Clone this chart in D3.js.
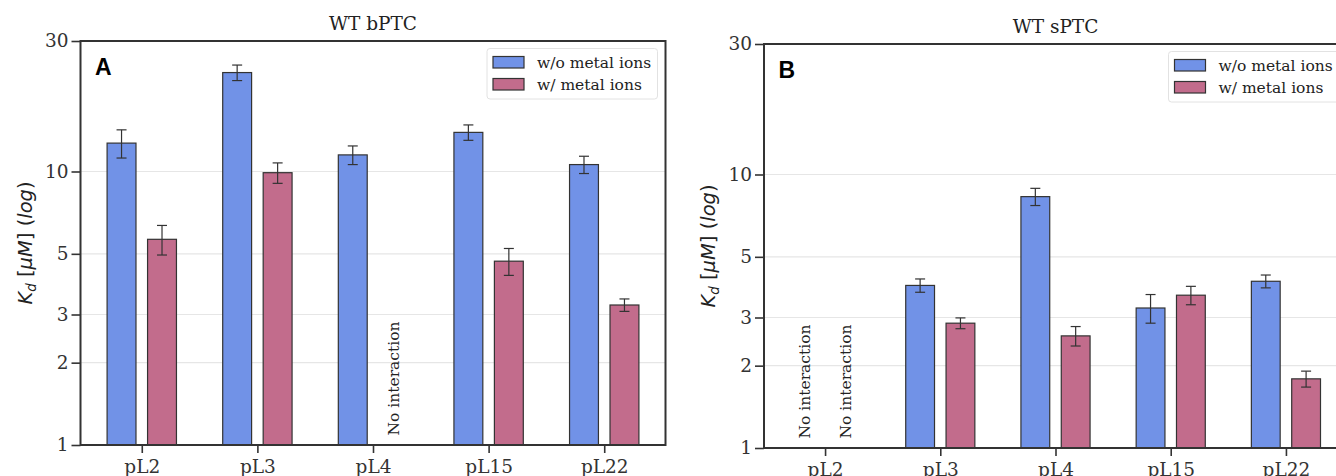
<!DOCTYPE html>
<html>
<head>
<meta charset="utf-8">
<script src="https://cdn.jsdelivr.net/npm/d3@7"></script>
<style>
  body { margin: 0; background: #fff; }
  svg { display: block; }
</style>
</head>
<body>
<div id="chart"></div>
<script>
// chart data
var categories = ["pL2", "pL3", "pL4", "pL15", "pL22"];
var seriesNames = ["w/o metal ions", "w/ metal ions"];
var seriesColors = ["#7192e7", "#c26c8c"];
var yTicks = [1, 2, 3, 5, 10, 30];

// panel A (WT bPTC), null = no interaction
var bptcWithout = [12.7, 23.0, 11.5, 13.9, 10.6],
    bptcWithoutErr = [1.5, 1.5, 0.9, 0.9, 0.77],
    bptcWith = [5.65, 9.9, null, 4.7, 3.25],
    bptcWithErr = [0.7, 0.85, null, 0.53, 0.17];

// panel B (WT sPTC)
var sptcWithout = [null, 3.93, 8.3, 3.25, 4.07],
    sptcWithoutErr = [null, 0.22, 0.6, 0.39, 0.22],
    sptcWith = [null, 2.86, 2.57, 3.62, 1.79],
    sptcWithErr = [null, 0.13, 0.21, 0.28, 0.12];

var width = 1336, height = 476;
var serif = "'DejaVu Serif', serif",
    sans = "'DejaVu Sans', sans-serif";

var svg = d3.select("#chart").append("svg")
    .attr("width", width)
    .attr("height", height);

function drawPanel(opts) {
    var left = opts.left, top = opts.top,
        w = opts.width, h = opts.height,
        bottom = top + h;

    var g = svg.append("g");

    // scales
    var xScale = d3.scalePoint()
        .domain(categories)
        .range([left, left + w])
        .padding(0.53);
    var step = xScale.step();
    var xSub = d3.scaleBand()
        .domain(seriesNames)
        .range([-0.3 * step, 0.3 * step])
        .paddingInner(0.286);
    var yScale = d3.scaleLog()
        .domain([1, 30])
        .range([bottom, top]);

    // grid lines
    g.append("g").selectAll("line")
        .data(yTicks.filter(function(d) { return d > 1 && d < 30; }))
        .enter().append("line")
            .attr("x1", left).attr("x2", left + w)
            .attr("y1", function(d) { return yScale(d); })
            .attr("y2", function(d) { return yScale(d); })
            .style("stroke", "#e6e6e6")
            .style("stroke-width", 1.2);

    // bars
    var rows = [];
    categories.forEach(function(c, i) {
        opts.series.forEach(function(s, j) {
            rows.push({cat: c, name: seriesNames[j], color: seriesColors[j],
                       value: s.values[i], err: s.errs[i]});
        });
    });

    var barRows = rows.filter(function(d) { return d.value != null; });
    g.append("g").selectAll("rect")
        .data(barRows)
        .enter().append("rect")
            .attr("x", function(d) { return xScale(d.cat) + xSub(d.name); })
            .attr("y", function(d) { return yScale(d.value); })
            .attr("width", xSub.bandwidth())
            .attr("height", function(d) { return bottom - yScale(d.value); })
            .style("fill", function(d) { return d.color; })
            .style("stroke", "#333")
            .style("stroke-width", 1.2);

    // error bars
    var eb = g.append("g").selectAll("g")
        .data(barRows)
        .enter().append("g")
            .attr("transform", function(d) {
                return "translate(" + (xScale(d.cat) + xSub(d.name) + xSub.bandwidth() / 2) + ",0)";
            })
            .style("stroke", "#333")
            .style("stroke-width", 1.2);
    eb.append("line")
        .attr("y1", function(d) { return yScale(d.value + d.err); })
        .attr("y2", function(d) { return yScale(d.value - d.err); });
    eb.append("line")
        .attr("x1", -5).attr("x2", 5)
        .attr("y1", function(d) { return yScale(d.value + d.err); })
        .attr("y2", function(d) { return yScale(d.value + d.err); });
    eb.append("line")
        .attr("x1", -5).attr("x2", 5)
        .attr("y1", function(d) { return yScale(d.value - d.err); })
        .attr("y2", function(d) { return yScale(d.value - d.err); });

    // "No interaction" labels
    g.append("g").selectAll("text")
        .data(rows.filter(function(d) { return d.value == null; }))
        .enter().append("text")
            .attr("transform", function(d) {
                return "translate(" + (xScale(d.cat) + xSub(d.name) + xSub.bandwidth() / 2) + "," + (bottom - 9.5) + ") rotate(-90)";
            })
            .attr("dy", "0.36em")
            .style("font-family", serif)
            .style("font-size", "15.5px")
            .style("fill", "#222")
            .text("No interaction");

    // axes
    var yAxis = g.append("g")
        .attr("transform", "translate(" + left + ",0)")
        .call(d3.axisLeft(yScale)
            .tickValues(yTicks)
            .tickFormat(d3.format("d"))
            .tickSize(9)
            .tickPadding(3));
    var xAxis = g.append("g")
        .attr("transform", "translate(0," + bottom + ")")
        .call(d3.axisBottom(xScale)
            .tickSize(8)
            .tickPadding(7));
    [yAxis, xAxis].forEach(function(a) {
        a.select(".domain").remove();
        a.selectAll("line").style("stroke", "#333").style("stroke-width", 1.6);
        a.selectAll("text")
            .style("font-family", serif)
            .style("font-size", "18.5px")
            .style("fill", "#333");
    });

    // frame
    g.append("rect")
        .attr("x", left).attr("y", top)
        .attr("width", w).attr("height", h)
        .style("fill", "none")
        .style("stroke", "#333")
        .style("stroke-width", 2);

    // title
    g.append("text")
        .attr("x", left + w / 2)
        .attr("y", top - 11)
        .attr("text-anchor", "middle")
        .style("font-family", serif)
        .style("font-size", "18.5px")
        .style("fill", "#222")
        .text(opts.title);

    // panel letter
    g.append("text")
        .attr("x", left + 14.5)
        .attr("y", top + 33.5)
        .style("font-family", "'Liberation Sans', Arial, sans-serif")
        .style("font-weight", "bold")
        .style("font-size", "23px")
        .style("fill", "#000")
        .text(opts.letter);

    // y label
    var yl = g.append("text")
        .attr("transform", "translate(" + (left - 49) + "," + (top + h / 2) + ") rotate(-90)")
        .attr("text-anchor", "middle")
        .style("font-family", sans)
        .style("font-size", "19.5px")
        .style("fill", "#222");
    yl.append("tspan").style("font-style", "italic").text("K");
    yl.append("tspan").style("font-style", "italic").style("font-size", "13.5px")
        .attr("dy", 4).text("d");
    yl.append("tspan").attr("dy", -4).text(" [");
    yl.append("tspan").style("font-style", "italic").text("\u03bcM");
    yl.append("tspan").text("] (");
    yl.append("tspan").style("font-style", "italic").text("log");
    yl.append("tspan").text(")");

    // legend
    var lw = 170.5, lh = 50.5;
    var lg = g.append("g")
        .attr("transform", "translate(" + (left + w - 8 - lw) + "," + (top + 7.5) + ")");
    lg.append("rect")
        .attr("width", lw).attr("height", lh)
        .attr("rx", 3)
        .style("fill", "rgba(255,255,255,0.85)")
        .style("stroke", "#e2e2e2")
        .style("stroke-width", 1);
    var items = lg.selectAll("g.item")
        .data(seriesNames)
        .enter().append("g")
            .attr("class", "item")
            .attr("transform", function(d, i) { return "translate(6," + (8 + i * 22) + ")"; });
    items.append("rect")
        .attr("width", 31).attr("height", 11.5)
        .style("fill", function(d, i) { return seriesColors[i]; })
        .style("stroke", "#333")
        .style("stroke-width", 1.2);
    items.append("text")
        .attr("x", 44)
        .attr("y", 6)
        .attr("dy", "0.35em")
        .style("font-family", serif)
        .style("font-size", "15.5px")
        .style("fill", "#222")
        .text(function(d) { return d; });
}

drawPanel({
    left: 80.5, top: 41, width: 585, height: 404,
    title: "WT bPTC", letter: "A",
    series: [{values: bptcWithout, errs: bptcWithoutErr},
             {values: bptcWith, errs: bptcWithErr}]
});

drawPanel({
    left: 764, top: 44, width: 583, height: 404,
    title: "WT sPTC", letter: "B",
    series: [{values: sptcWithout, errs: sptcWithoutErr},
             {values: sptcWith, errs: sptcWithErr}]
});
</script>
</body>
</html>
